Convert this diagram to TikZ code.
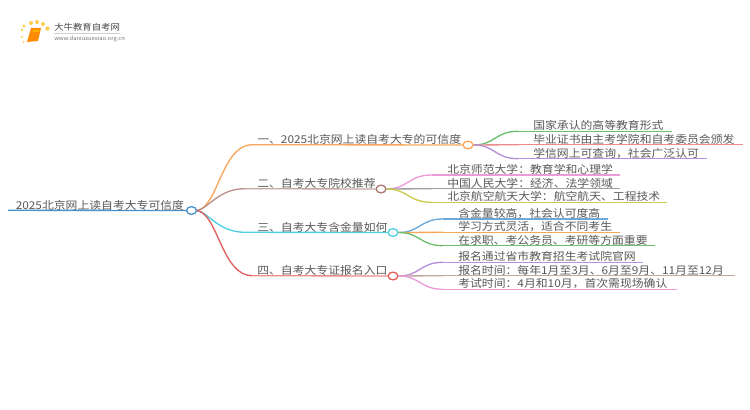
\documentclass[tikz,border=0pt]{standalone}
\usepackage{fontspec}
\setmainfont{Noto Sans CJK SC}[FakeStretch=1.1]
\usetikzlibrary{calc,shapes.geometric}
\definecolor{cRoot}{HTML}{4A90C8}
\definecolor{cOrange}{HTML}{F9A65A}
\definecolor{cBrown}{HTML}{A9776E}
\definecolor{cCyan}{HTML}{4DD0E1}
\definecolor{cRed}{HTML}{E05F5F}
\definecolor{cGreen}{HTML}{6CBF6C}
\definecolor{cRose}{HTML}{EE8A8A}
\definecolor{cPurple}{HTML}{B78FDC}
\definecolor{cPink}{HTML}{EE9AD8}
\definecolor{cGray}{HTML}{9E9E9E}
\definecolor{cYellow}{HTML}{CDC94E}
\definecolor{cBlue}{HTML}{6AA9D8}
\definecolor{cTaupe}{HTML}{C4A8A2}
\tikzset{
  x=0.75pt,y=-0.75pt,
  lbl/.style={anchor=base west,inner sep=0pt,text=black!65,font=\fontsize{8.07pt}{10pt}\selectfont},
  lineb/.style={line width=1pt},
  knob/.style={ellipse,draw,fill=white,line width=1pt,minimum width=7.4pt,minimum height=5.8pt,inner sep=0pt},
}
\newcommand{\leaf}[6]{% name colour text-x y end text
  \coordinate (#1s) at (#3-15,#4);
  \coordinate (#1e) at (#5,#4);
  \node[lbl] (#1) at (#3,#4-1.6) {#6};
  \draw[lineb,#2] (#1s) -- (#1e);
}
\begin{document}
\begin{tikzpicture}
\useasboundingbox (0,0) rectangle (750,410);
\fill[white] (0,0) rectangle (750,410);
% logo
\foreach \px/\py/\r in {24/26/1.7,31/23/2,37/22/2,43/24/2,47.5/28.5/2.2,22/30/1.4,22/37/1.2,23.5/42/1}
  \fill[orange!55!yellow,opacity=.7] (\px,\py) circle (\r);
\fill[orange!90!yellow] (31,28) -- (41,28) -- (38,41) -- (27,42) -- cycle;
\fill[orange!60!yellow] (33,30) -- (39.5,30) -- (39,32) -- (32.5,32) -- cycle;
\node[inner sep=0pt,anchor=base west,text=black!72,font=\fontsize{6.4pt}{8pt}\selectfont] (lt) at (54,30.5) {大牛教育自考网};
\fill[black!18] (54,33) rectangle (120,33.6);
\node[inner sep=0pt,anchor=base west,text=black!55,font=\fontsize{4pt}{5pt}\selectfont] (lu) at (54,41) {www.daniuzuexiao.org.cn};
% root
\coordinate (r0) at (8,210.3);
\node[knob,draw=cRoot] (root) at (191.5,210.5) {};
\draw[lineb,cRoot] (r0) -- (root.west);
\node[lbl] (rt) at (15.5,209.3) {2025北京网上读自考大专可信度};
% first level
\coordinate (b1s) at (252,144.7); \coordinate (b2s) at (245,188.7); \coordinate (b3s) at (245,232.3); \coordinate (b4s) at (252,275.7);
\node[knob,draw=cOrange] (b1) at (468,145) {};
\node[knob,draw=cBrown] (b2) at (381,189) {};
\node[knob,draw=cCyan] (b3) at (393,232.5) {};
\node[knob,draw=cRed] (b4) at (393,276) {};
\draw[lineb,cOrange] (root.east) .. controls (218,207) and (222,144.7) .. (b1s) -- (b1.west);
\draw[lineb,cBrown!80] (root.east) .. controls (208,209) and (218,188.7) .. (b2s);
\draw[lineb,cTaupe] (b2s) -- (b2.west);
\draw[lineb,cCyan] (root.east) .. controls (208,212) and (218,232.3) .. (b3s) -- (b3.west);
\draw[lineb,cRed] (root.east) .. controls (218,214) and (222,275.7) .. (b4s);
\draw[lineb,cRose] (b4s) -- (b4.west);
\node[lbl] (t1) at (257,143.7) {一、2025北京网上读自考大专的可信度};
\node[lbl] (t2) at (257,187.7) {二、自考大专院校推荐};
\node[lbl] (t3) at (257,231.3) {三、自考大专含金量如何};
\node[lbl] (t4) at (257,274.7) {四、自考大专证报名入口};
% leaves of 1
\leaf{a1}{cGreen}{533}{131.3}{672}{国家承认的高等教育形式}
\leaf{a2}{cRose}{533}{144.7}{743}{毕业证书由主考学院和自考委员会颁发}
\leaf{a3}{cPurple}{533}{158.7}{707}{学信网上可查询，社会广泛认可}
\draw[lineb,cGreen] (b1.east) .. controls (495,145) and (495,131.3) .. (a1s);
\draw[lineb,cRose] (b1.east) -- (a2s);
\draw[lineb,cPurple] (b1.east) .. controls (495,145) and (495,158.7) .. (a3s);
% leaves of 2
\leaf{c1}{cPink}{447}{175}{620}{北京师范大学：教育学和心理学}
\leaf{c2}{cGray}{447}{188.7}{620}{中国人民大学：经济、法学领域}
\leaf{c3}{cYellow}{447}{202.3}{667}{北京航空航天大学：航空航天、工程技术}
\draw[lineb,cPink] (b2.east) .. controls (408,189) and (408,175) .. (c1s);
\draw[lineb,cGray] (b2.east) -- (c2s);
\draw[lineb,cYellow] (b2.east) .. controls (408,189) and (408,202.3) .. (c3s);
% leaves of 3
\leaf{d1}{cBlue}{458}{219}{608}{含金量较高，社会认可度高}
\leaf{d2}{cOrange}{458}{232.3}{620}{学习方式灵活，适合不同考生}
\leaf{d3}{cGreen}{458}{245.7}{655}{在求职、考公务员、考研等方面重要}
\draw[lineb,cBlue] (b3.east) .. controls (420,232.5) and (420,219) .. (d1s);
\draw[lineb,cOrange] (b3.east) -- (d2s);
\draw[lineb,cGreen] (b3.east) .. controls (420,232.5) and (420,245.7) .. (d3s);
% leaves of 4
\leaf{e1}{cPurple}{458}{262.3}{643}{报名通过省市教育招生考试院官网}
\leaf{e2}{cTaupe}{458}{275.7}{735}{报名时间：每年1月至3月、6月至9月、11月至12月}
\leaf{e3}{cPink}{458}{289.3}{677}{考试时间：4月和10月，首次需现场确认}
\draw[lineb,cPurple] (b4.east) .. controls (420,276) and (420,262.3) .. (e1s);
\draw[lineb,cTaupe] (b4.east) -- (e2s);
\draw[lineb,cPink] (b4.east) .. controls (420,276) and (420,289.3) .. (e3s);
\end{tikzpicture}
\end{document}
